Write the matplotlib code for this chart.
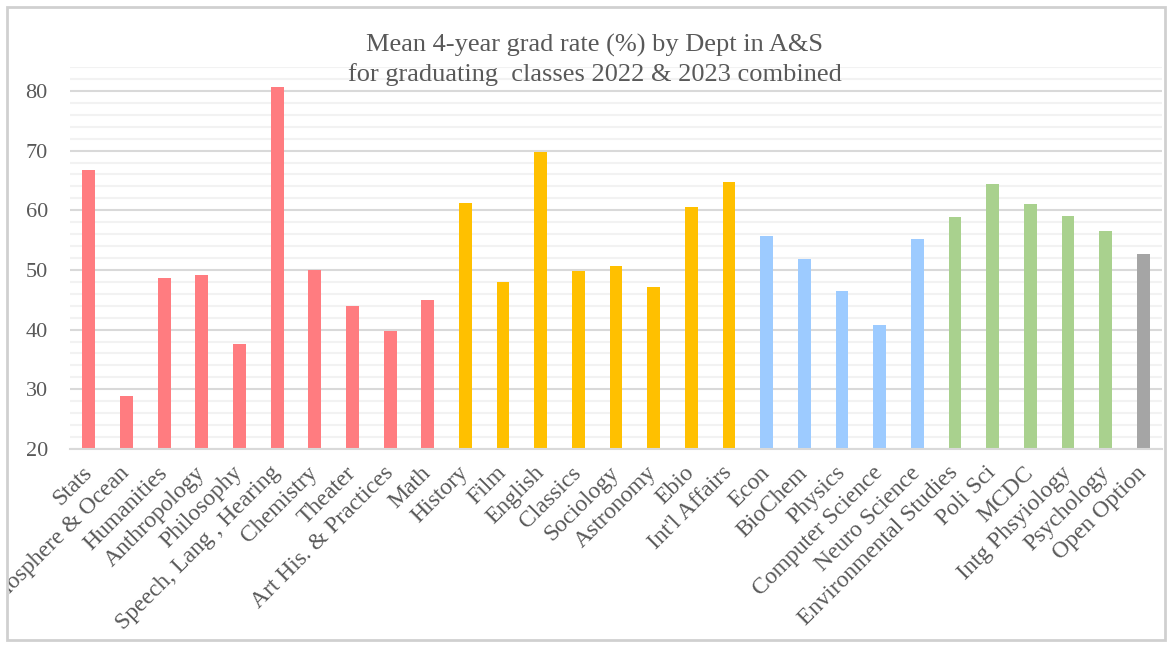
import matplotlib.pyplot as plt
from matplotlib.patches import Rectangle
from matplotlib.ticker import MultipleLocator

# departments in A&S, grouped by colour
departments = ['Stats', 'Atmosphere & Ocean', 'Humanities', 'Anthropology', 'Philosophy',
               'Speech, Lang , Hearing', 'Chemistry', 'Theater', 'Art His. & Practices', 'Math',
               'History', 'Film', 'English', 'Classics', 'Sociology', 'Astronomy', 'Ebio',
               "Int'l Affairs", 'Econ', 'BioChem', 'Physics', 'Computer Science', 'Neuro Science',
               'Environmental Studies', 'Poli Sci', 'MCDC', 'Intg Phsyiology', 'Psychology',
               'Open Option']

grad_rate = [66.8, 28.8, 48.7, 49.2, 37.6, 80.7, 50.0, 43.9, 39.8, 45.0,
             61.2, 48.0, 69.7, 49.8, 50.6, 47.2, 60.6, 64.7,
             55.7, 51.8, 46.4, 40.8, 55.2,
             58.9, 64.4, 61.1, 59.1, 56.5,
             52.7]

group = ['red'] * 10 + ['gold'] * 8 + ['blue'] * 5 + ['green'] * 5 + ['gray']
palette = {'red': '#FF7C80', 'gold': '#FFC000', 'blue': '#9DCBFF',
           'green': '#A9D18E', 'gray': '#A5A5A5'}

plt.rcParams['font.family'] = ['Liberation Serif', 'DejaVu Serif']

fig = plt.figure(figsize=(11.73, 6.45), dpi=100)
ax = fig.add_axes([0.0597, 0.304, 0.931, 0.592])

x = list(range(len(departments)))
ax.bar(x, grad_rate, width=0.34, bottom=0,
       color=[palette[g] for g in group], zorder=3)

ax.set_ylim(20, 84)
ax.set_xlim(-0.5, len(departments) - 0.5)
ax.yaxis.set_major_locator(MultipleLocator(10))
ax.yaxis.set_minor_locator(MultipleLocator(2))
ax.set_yticks([20, 30, 40, 50, 60, 70, 80])
ax.grid(axis='y', which='major', color='#D9D9D9', linewidth=1.5, zorder=0)
ax.grid(axis='y', which='minor', color='#F2F2F2', linewidth=1.5, zorder=0)
ax.tick_params(axis='y', which='both', length=0, labelsize=16, labelcolor='#595959', pad=16)
ax.tick_params(axis='x', length=0, labelsize=17, labelcolor='#595959', pad=15)

ax.set_xticks(x)
ax.set_xticklabels(departments, rotation=45, ha='right', va='center',
                   rotation_mode='anchor')
for lbl in ax.get_xticklabels():
    lbl.set_x(0.15)

for side in ['top', 'right', 'left']:
    ax.spines[side].set_visible(False)
ax.spines['bottom'].set_color('#D9D9D9')
ax.spines['bottom'].set_linewidth(1.5)
ax.spines['bottom'].set_zorder(4)

fig.text(0.507, 0.93, 'Mean 4-year grad rate (%) by Dept in A&S', ha='center', va='center',
         fontsize=19, color='#595959')
fig.text(0.507, 0.884, 'for graduating  classes 2022 & 2023 combined', ha='center', va='center',
         fontsize=19, color='#595959')

# white margin + chart border, labels get cut at the border like the original
fig.add_artist(Rectangle((0, 0), 7 / 1173, 1, transform=fig.transFigure,
                         facecolor='white', edgecolor='none', zorder=10))
fig.add_artist(Rectangle((7 / 1173, 5 / 645), 1158 / 1173, 633 / 645, transform=fig.transFigure,
                         facecolor='none', edgecolor='#D0D0D0', linewidth=2, zorder=11))

fig.savefig('out.png', dpi=100)
